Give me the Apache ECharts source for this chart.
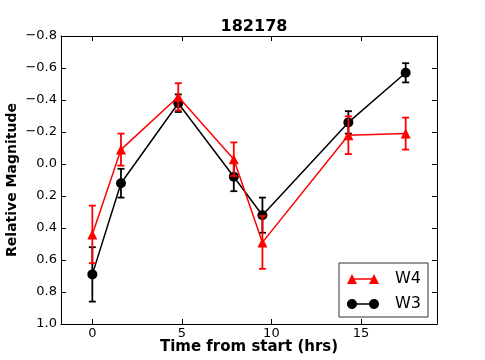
<!DOCTYPE html>
<html>
<head>
<meta charset="utf-8">
<script src="https://cdn.jsdelivr.net/npm/echarts@6/dist/echarts.min.js"></script>
<style>
  html, body { margin: 0; padding: 0; background: #fff; }
  #chart { width: 485px; height: 360px; }
</style>
</head>
<body>
<div id="chart"></div>
<script>
// values
let time_hrs = [0, 1.6, 4.8, 7.9, 9.5, 14.3, 17.5];
let w4_mag = [0.44, -0.09, -0.42, -0.03, 0.49, -0.18, -0.19];
let w4_err = [0.18, 0.10, 0.085, 0.105, 0.165, 0.118, 0.10];
let w3_mag = [0.69, 0.12, -0.38, 0.08, 0.32, -0.26, -0.57];
let w3_err = [0.17, 0.09, 0.055, 0.09, 0.11, 0.07, 0.06];
let x_ticks = [0, 5, 10, 15];

let font = 'DejaVu Sans';

// legend icons: a line with a marker at each end, like matplotlib
let bar_path = 'M5,4.3L27,4.3L27,5.7L5,5.7Z';
let icon_tri = 'path://M0,10L5,0L10,10Z' + bar_path + 'M22,10L27,0L32,10Z';
function circ(cx) {
    let l = cx - 5, r = cx + 5;
    return 'M' + l + ',5C' + l + ',2.24 ' + (cx - 2.76) + ',0 ' + cx + ',0' +
        'C' + (cx + 2.76) + ',0 ' + r + ',2.24 ' + r + ',5' +
        'C' + r + ',7.76 ' + (cx + 2.76) + ',10 ' + cx + ',10' +
        'C' + (cx - 2.76) + ',10 ' + l + ',7.76 ' + l + ',5Z';
}
let icon_dot = 'path://' + circ(5) + bar_path + circ(27);

function pts(xs, ys) {
    let out = [];
    for (let i = 0; i < xs.length; i++) out.push([xs[i], ys[i]]);
    return out;
}
function errPts(xs, ys, es) {
    let out = [];
    for (let i = 0; i < xs.length; i++) out.push([xs[i], ys[i], es[i]]);
    return out;
}
function errBars(color) {
    return function (params, api) {
        let x = api.value(0), y = api.value(1), e = api.value(2);
        let a = api.coord([x, y - e]);
        let b = api.coord([x, y + e]);
        let st = {stroke: color, lineWidth: 1.8};
        let cap = 3.5;
        return {
            type: 'group',
            children: [
                {type: 'line', shape: {x1: a[0], y1: a[1], x2: b[0], y2: b[1]}, style: st},
                {type: 'line', shape: {x1: a[0] - cap, y1: a[1], x2: a[0] + cap, y2: a[1]}, style: st},
                {type: 'line', shape: {x1: b[0] - cap, y1: b[1], x2: b[0] + cap, y2: b[1]}, style: st}
            ]
        };
    };
}

let minus = v => String(v).replace('-', '\u2212');

let xBase = {
    type: 'value', min: -1.75, max: 19.25,
    splitLine: {show: false},
    axisLine: {show: true, onZero: false, lineStyle: {color: '#000', width: 1}},
    axisTick: {show: true, inside: true, length: 5, customValues: x_ticks, lineStyle: {color: '#000'}}
};
let yBase = {
    type: 'value', inverse: true, min: -0.8, max: 1.0, interval: 0.2,
    splitLine: {show: false},
    axisLine: {show: true, onZero: false, lineStyle: {color: '#000', width: 1}},
    axisTick: {show: true, inside: true, length: 5, lineStyle: {color: '#000'}}
};

let myChart = echarts.init(document.getElementById('chart'));
let option = {
    animation: false,
    backgroundColor: '#fff',
    title: {
        text: '182178', left: 249, top: 14, textAlign: 'center',
        textStyle: {fontFamily: font, fontWeight: 'bold', fontSize: 16, color: '#000'}
    },
    grid: {left: 61, right: 48, top: 36, bottom: 36, show: false, outerBoundsMode: 'none', containLabel: false},
    legend: {
        orient: 'vertical', left: 339, top: 263, width: 89,
        data: [{name: 'W4', icon: icon_tri}, {name: 'W3', icon: icon_dot}],
        borderColor: '#333', borderWidth: 1, borderRadius: 0,
        padding: [8, 7, 5, 8], itemGap: 9, itemWidth: 32, itemHeight: 10,
        textStyle: {fontFamily: font, fontSize: 16, color: '#000', padding: [0, 0, 0, 11]}
    },
    xAxis: [
        Object.assign({}, xBase, {
            position: 'bottom',
            name: 'Time from start (hrs)', nameLocation: 'middle', nameGap: 16, nameMoveOverlap: false,
            nameTextStyle: {fontFamily: font, fontWeight: 'bold', fontSize: 15, color: '#000'},
            axisLabel: {show: true, customValues: x_ticks, margin: 3, fontFamily: font, fontSize: 13, color: '#000'}
        }),
        Object.assign({}, xBase, {position: 'top', axisLabel: {show: false}})
    ],
    yAxis: [
        Object.assign({}, yBase, {
            position: 'left',
            name: 'Relative Magnitude', nameLocation: 'middle', nameGap: 42, nameMoveOverlap: false,
            nameTextStyle: {fontFamily: font, fontWeight: 'bold', fontSize: 14, color: '#000'},
            axisLabel: {
                show: true, margin: 4, fontFamily: font, fontSize: 13, color: '#000',
                formatter: v => minus(v.toFixed(1))
            }
        }),
        Object.assign({}, yBase, {position: 'right', axisLabel: {show: false}})
    ],
    series: [
        {
            name: 'W3', type: 'line', data: pts(time_hrs, w3_mag),
            symbol: 'circle', symbolSize: 10, showAllSymbol: true,
            itemStyle: {color: '#000'}, lineStyle: {color: '#000', width: 1.5}, z: 2
        },
        {
            name: 'W3 err', type: 'custom', data: errPts(time_hrs, w3_mag, w3_err),
            encode: {x: 0, y: 1}, renderItem: errBars('#000'), z: 3
        },
        {
            name: 'W4', type: 'line', data: pts(time_hrs, w4_mag),
            symbol: 'triangle', symbolSize: 10, showAllSymbol: true,
            itemStyle: {color: '#f00'}, lineStyle: {color: '#f00', width: 1.5}, z: 4
        },
        {
            name: 'W4 err', type: 'custom', data: errPts(time_hrs, w4_mag, w4_err),
            encode: {x: 0, y: 1}, renderItem: errBars('#f00'), z: 5
        }
    ]
};
myChart.setOption(option);
</script>
</body>
</html>
